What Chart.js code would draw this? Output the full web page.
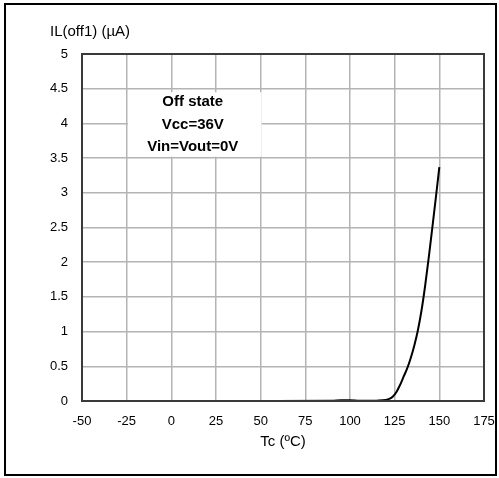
<!DOCTYPE html>
<html>
<head>
<meta charset="utf-8">
<script src="https://cdn.jsdelivr.net/npm/chart.js@4"></script>
<style>
  html, body { margin: 0; padding: 0; background: #fff; }
  canvas { display: block; }
</style>
</head>
<body>
<canvas id="leakChart" width="499" height="478"></canvas>
<script>
// Tc (ºC) vs IL(off1) (µA)
const tempC = [-40, 0, 50, 90, 95, 100, 105, 110, 115, 120, 122, 124, 126, 128, 130, 132, 134, 136, 138, 140, 142, 144, 146, 148, 150];
const leakage = [0, 0, 0, 0.003, 0.012, 0.012, 0.005, 0.003, 0.005, 0.015, 0.03, 0.065, 0.13, 0.23, 0.35, 0.47, 0.62, 0.8, 1.02, 1.3, 1.65, 2.05, 2.48, 2.92, 3.37];

const xTicks = [-50, -25, 0, 25, 50, 75, 100, 125, 150, 175];
const yTicks = [0, 0.5, 1, 1.5, 2, 2.5, 3, 3.5, 4, 4.5, 5];

const yTitle = "IL(off1) (µA)";
const xTitle = "Tc (ºC)";
const noteLines = ["Off state", "Vcc=36V", "Vin=Vout=0V"];

// frame, titles and note box
const decorations = {
  id: "decorations",
  beforeDraw(chart) {
    const ctx = chart.ctx;
    ctx.save();
    ctx.fillStyle = "#fff";
    ctx.fillRect(0, 0, chart.width, chart.height);
    ctx.restore();
  },
  afterDatasetsDraw(chart) {
    const ctx = chart.ctx;
    const area = chart.chartArea;
    const xs = chart.scales.x;
    const ys = chart.scales.y;
    ctx.save();

    // outer border
    ctx.strokeStyle = "#000";
    ctx.lineWidth = 2;
    ctx.strokeRect(5, 4, 491, 471);

    // note box (white background over grid)
    const cx = xs.getPixelForValue(12);
    ctx.fillStyle = "#fff";
    const bx0 = xs.getPixelForValue(-24.3);
    const bx1 = xs.getPixelForValue(50.5);
    const by0 = ys.getPixelForValue(4.45);
    const by1 = ys.getPixelForValue(3.52);
    ctx.fillRect(bx0, by0, bx1 - bx0, by1 - by0);

    ctx.fillStyle = "#000";
    ctx.font = "bold 15px 'Liberation Sans', Arial, sans-serif";
    ctx.textAlign = "center";
    ctx.textBaseline = "middle";
    noteLines.forEach((t, i) => {
      ctx.fillText(t, cx, 102 + i * 22.5);
    });

    // axis titles
    ctx.font = "15px 'Liberation Sans', Arial, sans-serif";
    ctx.textAlign = "left";
    ctx.fillText(yTitle, 50, 32);
    ctx.textAlign = "center";
    ctx.fillText(xTitle, (area.left + area.right) / 2, 442);

    // plot frame
    ctx.strokeStyle = "#3a3a3a";
    ctx.lineWidth = 2;
    ctx.strokeRect(area.left, area.top, area.right - area.left, area.bottom - area.top);
    ctx.restore();
  }
};

const ctx = document.getElementById("leakChart").getContext("2d");
const leakChart = new Chart(ctx, {
  type: "scatter",
  data: {
    datasets: [
      {
        data: tempC.map((t, i) => ({ x: t, y: leakage[i] })),
        showLine: true,
        borderColor: "#000",
        borderWidth: 2,
        pointRadius: 0,
        cubicInterpolationMode: "monotone",
        fill: false,
      },
    ],
  },
  options: {
    responsive: false,
    animation: false,
    layout: {
      padding: { left: 0, top: 54, right: 15, bottom: 0 },
    },
    plugins: {
      legend: { display: false },
      tooltip: { enabled: false },
    },
    scales: {
      x: {
        type: "linear",
        min: xTicks[0],
        max: xTicks[xTicks.length - 1],
        afterBuildTicks: (scale) => {
          scale.ticks = xTicks.map((v) => ({ value: v }));
        },
        afterFit: (scale) => {
          scale.height = 77;
          scale.paddingLeft = 0;
          scale.paddingRight = 0;
        },
        grid: { color: "#b4b4b4", lineWidth: 1.5, drawTicks: false },
        border: { display: false },
        ticks: {
          color: "#000",
          padding: 13,
          font: { family: "'Liberation Sans', Arial, sans-serif", size: 13 },
        },
      },
      y: {
        min: yTicks[0],
        max: yTicks[yTicks.length - 1],
        afterBuildTicks: (scale) => {
          scale.ticks = yTicks.map((v) => ({ value: v }));
        },
        afterFit: (scale) => {
          scale.width = 82;
          scale.paddingTop = 0;
          scale.paddingBottom = 0;
        },
        grid: { color: "#b4b4b4", lineWidth: 1.5, drawTicks: false },
        border: { display: false },
        ticks: {
          color: "#000",
          padding: 14,
          callback: (v) => String(v),
          font: { family: "'Liberation Sans', Arial, sans-serif", size: 13 },
        },
      },
    },
  },
  plugins: [decorations],
});
</script>
</body>
</html>
